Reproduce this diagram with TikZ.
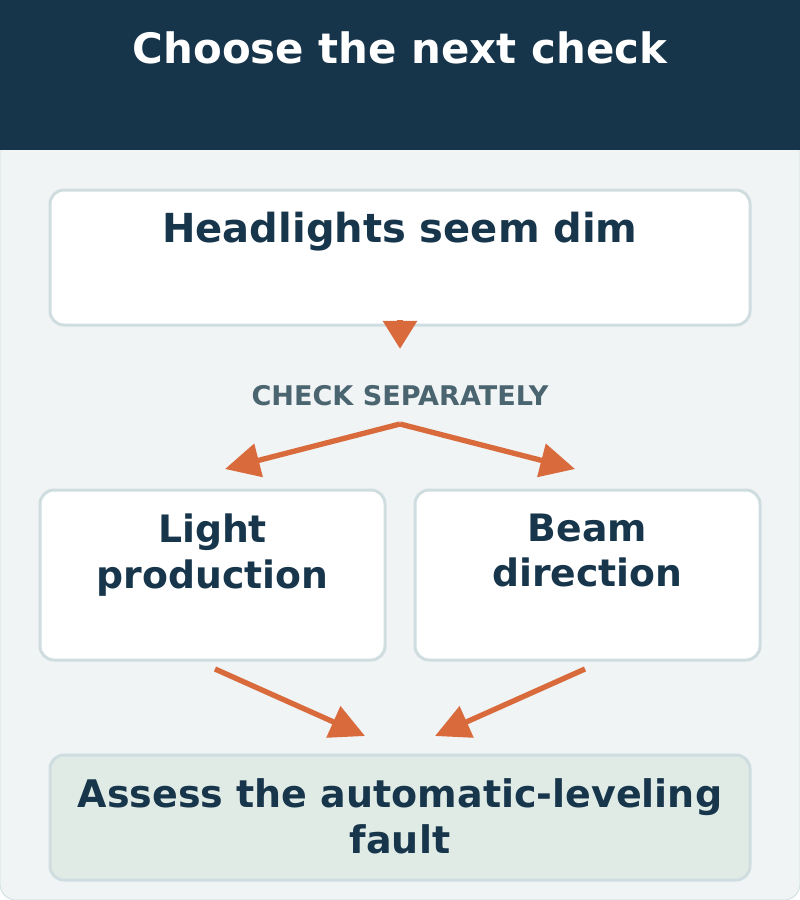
\documentclass[tikz,border=0pt]{standalone}
\usepackage{fontspec}
\setmainfont{DejaVu Sans}
\usetikzlibrary{arrows.meta, positioning, calc}

\definecolor{headerblue}{HTML}{16344A}
\definecolor{panelgrey}{HTML}{F0F4F5}
\definecolor{edgegrey}{HTML}{CFDDE0}
\definecolor{inkblue}{HTML}{17354B}
\definecolor{labelgrey}{HTML}{4A6470}
\definecolor{flowred}{HTML}{D96A3C}
\definecolor{resultgreen}{HTML}{E1EBE6}

\tikzset{
    card/.style={draw=edgegrey, line width=2.25pt, fill=white, rounded corners=10.5pt, inner sep=0pt},
    cardtext/.style={font=\bfseries\fontsize{28.3}{34}\selectfont, text=inkblue, align=center, inner sep=0pt},
    flow/.style={draw=flowred, line width=4pt, -{Triangle[length=26pt, width=25pt]}},
}

\begin{document}
\begin{tikzpicture}[x=0.75pt, y=-0.75pt]
    \useasboundingbox (0,0) rectangle (800,900);

    % Panel and header
    \filldraw[fill=panelgrey, draw=edgegrey, line width=0.6pt, rounded corners=12pt] (0,0) rectangle (800,900);
    \fill[headerblue] (0,0) rectangle (800,150);
    \node[anchor=base, inner sep=0pt, text=white, font=\bfseries\fontsize{31.4}{36}\selectfont] (title) at (400,63.5) {Choose the next check};

    % Cards
    \node[card, minimum width=525pt, minimum height=101.25pt] (dim) at (400,257.5) {};
    \node[card, minimum width=258.75pt, minimum height=127.5pt] (light) at (212.5,575) {};
    \node[card, minimum width=258.75pt, minimum height=127.5pt] (beam) at (587.5,575) {};
    \node[card, fill=resultgreen, minimum width=525pt, minimum height=93.75pt] (assess) at (400,817.5) {};

    \node[cardtext, font=\bfseries\fontsize{30}{36}\selectfont, below=17.6pt of dim.north] (dimtext) {Headlights seem dim};
    \node[cardtext, below=19pt of light.north] (lighttext) {Light\\production};
    \node[cardtext, below=19pt of beam.north] (beamtext) {Beam\\direction};
    \node[cardtext, font=\bfseries\fontsize{28.5}{34}\selectfont, below=19pt of assess.north] (assesstext) {Assess the automatic-leveling\\fault};

    % Split label
    \node[anchor=base, inner sep=0pt, text=labelgrey, font=\bfseries\fontsize{20.3}{24}\selectfont] (split) at (400,405) {CHECK SEPARATELY};
    \coordinate (fork) at (400,424);

    % Arrows
    \draw[flow, -{Triangle[length=21pt, width=25pt]}] ([yshift=5pt]dim.south) -- ++(0,29);
    \draw[flow] (fork) -- ([shift={(12.5,-19.5)}]light.north);
    \draw[flow] (fork) -- ([shift={(-12.5,-19.5)}]beam.north);
    \draw[flow] ([shift={(2.5,7.5)}]light.south) -- ([shift={(-35,-17.5)}]assess.north);
    \draw[flow] ([shift={(-2.5,7.5)}]beam.south) -- ([shift={(35,-17.5)}]assess.north);
\end{tikzpicture}
\end{document}
